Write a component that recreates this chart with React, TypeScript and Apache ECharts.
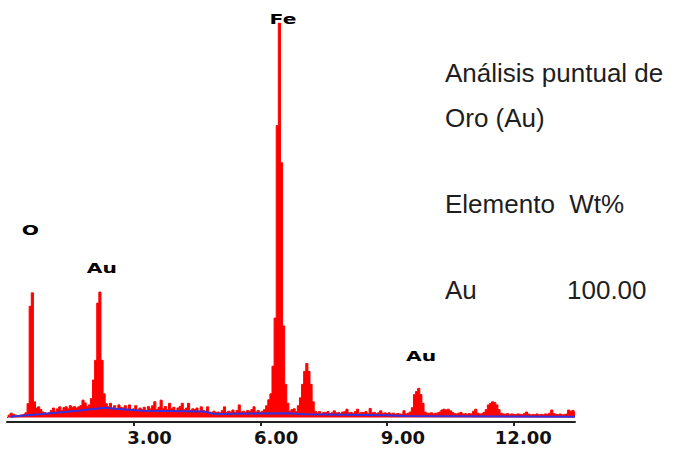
import React, { useEffect, useRef } from "react";
import * as echarts from "echarts";

// EDS spectrum: counts per 0.05 keV channel
const CHANNEL_KEV = 0.05;
const counts00 = [0, 6, 11, 8, 6, 5, 6, 7, 8, 12, 35, 282, 316, 40, 24, 27, 20, 14, 12, 10];
const counts01 = [12, 18, 24, 16, 22, 27, 18, 25, 27, 22, 30, 26, 28, 24, 27, 30, 44, 37, 28, 32];
const counts02 = [48, 95, 145, 290, 318, 145, 60, 35, 28, 36, 24, 30, 22, 32, 26, 24, 30, 22, 32, 20];
const counts03 = [22, 30, 18, 24, 20, 26, 18, 28, 22, 30, 40, 20, 26, 44, 22, 28, 20, 36, 22, 26];
const counts04 = [18, 24, 28, 36, 20, 24, 36, 18, 22, 20, 24, 16, 27, 18, 14, 27, 14, 12, 16, 13];
const counts05 = [14, 12, 18, 27, 13, 16, 14, 19, 13, 18, 32, 14, 16, 13, 18, 15, 20, 27, 14, 18];
const counts06 = [13, 16, 20, 30, 45, 60, 130, 252, 740, 1000, 646, 232, 84, 36, 16, 20, 22, 15, 30, 50];
const counts07 = [84, 117, 137, 117, 84, 40, 16, 12, 15, 10, 13, 12, 15, 10, 12, 17, 12, 13, 10, 14];
const counts08 = [15, 21, 12, 13, 10, 15, 21, 11, 13, 12, 15, 10, 23, 12, 13, 10, 12, 17, 11, 12];
const counts09 = [10, 12, 9, 11, 8, 10, 9, 8, 17, 9, 11, 14, 25, 58, 66, 74, 58, 36, 14, 11];
const counts10 = [10, 12, 9, 11, 12, 14, 19, 21, 19, 21, 17, 13, 10, 9, 11, 13, 9, 10, 8, 10];
const counts11 = [9, 16, 21, 11, 9, 10, 13, 20, 32, 36, 40, 38, 32, 20, 11, 9, 8, 10, 7, 9];
const counts12 = [8, 7, 9, 8, 7, 10, 14, 9, 7, 8, 7, 9, 7, 8, 7, 9, 8, 11, 19, 10];
const counts13 = [8, 7, 9, 7, 8, 9, 19, 16, 18, 14];

const spectrumCounts = [
  ...counts00, ...counts01, ...counts02, ...counts03, ...counts04, ...counts05, ...counts06,
  ...counts07, ...counts08, ...counts09, ...counts10, ...counts11, ...counts12, ...counts13,
];

// fitted background (blue line)
const backgroundEnergy = [0.08, 1.03, 1.67, 2.31, 2.57, 3.21, 4.68, 4.82, 4.94, 6.67, 7.05, 8.97, 9.42, 13.45];
const backgroundCounts = [2, 11, 17, 25, 22, 17, 15, 11, 9, 11, 8, 6, 4, 2];

// axis
const xTickValues = [3, 6, 9, 12];
const xTickLabels = ["3.00", "6.00", "9.00", "12.00"];

// peak identifications
const peakNames = ["O", "Au", "Fe", "Au"];
const peakEnergy = [0.6, 2.2, 6.45, 9.75];

// side annotation
const infoLines = ["Análisis puntual de", "Oro (Au)", "Elemento  Wt%"];
const resultElement = "Au";
const resultWt = "100.00";

export default function App() {
  const ref = useRef<HTMLDivElement>(null);

  useEffect(() => {
    if (!ref.current) return;
    const chart = echarts.init(ref.current, null, { renderer: "svg" });
    chart.setOption({
      animation: false,
      backgroundColor: "#ffffff",
      grid: { left: 7, right: 100, top: 23, bottom: 29 },
      xAxis: {
        type: "value",
        min: 0,
        max: 13.45,
        splitLine: { show: false },
        axisLine: { show: true, onZero: false, lineStyle: { color: "#222222", width: 2 } },
        axisTick: {
          show: true,
          customValues: xTickValues,
          length: 4,
          lineStyle: { color: "#222222", width: 2 },
        },
        axisLabel: {
          show: true,
          customValues: xTickValues,
          formatter: (v: number) => {
            const i = xTickValues.indexOf(Math.round(v));
            return i >= 0 ? xTickLabels[i] : "";
          },
          fontFamily: "DejaVu Sans",
          fontWeight: "bold",
          fontSize: 18,
          color: "#111111",
          margin: 6,
          align: "right",
          padding: [0, -38, 0, 0],
        },
      },
      yAxis: { type: "value", min: -11.4, max: 1000, show: false },
      series: [
        {
          type: "line",
          step: "middle",
          symbol: "none",
          z: 2,
          lineStyle: { color: "#ff0000", width: 1 },
          areaStyle: { color: "#ff0000", opacity: 1 },
          data: spectrumCounts.map((c, i) => [i * CHANNEL_KEV, c]),
        },
        {
          type: "line",
          symbol: "none",
          z: 3,
          lineStyle: { color: "#3232e0", width: 2 },
          data: backgroundEnergy.map((e, i) => [e, backgroundCounts[i]]),
        },
      ],
    });

    const labelOffsets = [
      [-2, -63],
      [2, -24],
      [3.6, -4],
      [2.3, -32],
    ];
    const peakTexts = peakNames.map((name, i) => {
      const e = peakEnergy[i];
      const c = spectrumCounts[Math.round(e / CHANNEL_KEV)];
      const [px, py] = chart.convertToPixel({ xAxisIndex: 0, yAxisIndex: 0 }, [e, c]) as number[];
      return {
        type: "text",
        x: px + labelOffsets[i][0],
        y: py + labelOffsets[i][1],
        scaleX: 1.45,
        z: 10,
        style: {
          text: name,
          fill: "#000000",
          font: 'bold 14px "DejaVu Sans"',
          align: "center",
          verticalAlign: "middle",
        },
      };
    });
    const sideFont = '26px "Liberation Sans", Arial, sans-serif';
    const sideY = [73, 118, 204];
    const sideTexts = infoLines.map((t, i) => ({
      type: "text",
      x: 445,
      y: sideY[i],
      style: { text: t, fill: "#1e1e1e", font: sideFont, align: "left", verticalAlign: "middle" },
    }));
    sideTexts.push({
      type: "text",
      x: 445,
      y: 290,
      style: { text: resultElement, fill: "#1e1e1e", font: sideFont, align: "left", verticalAlign: "middle" },
    });
    sideTexts.push({
      type: "text",
      x: 567,
      y: 290,
      style: { text: resultWt, fill: "#1e1e1e", font: sideFont, align: "left", verticalAlign: "middle" },
    });
    chart.setOption({ graphic: [...peakTexts, ...sideTexts] });

    return () => chart.dispose();
  }, []);

  return (
    <div
      ref={ref}
      style={{ position: "fixed", left: 0, top: 0, width: 675, height: 451, background: "#fff" }}
    />
  );
}
